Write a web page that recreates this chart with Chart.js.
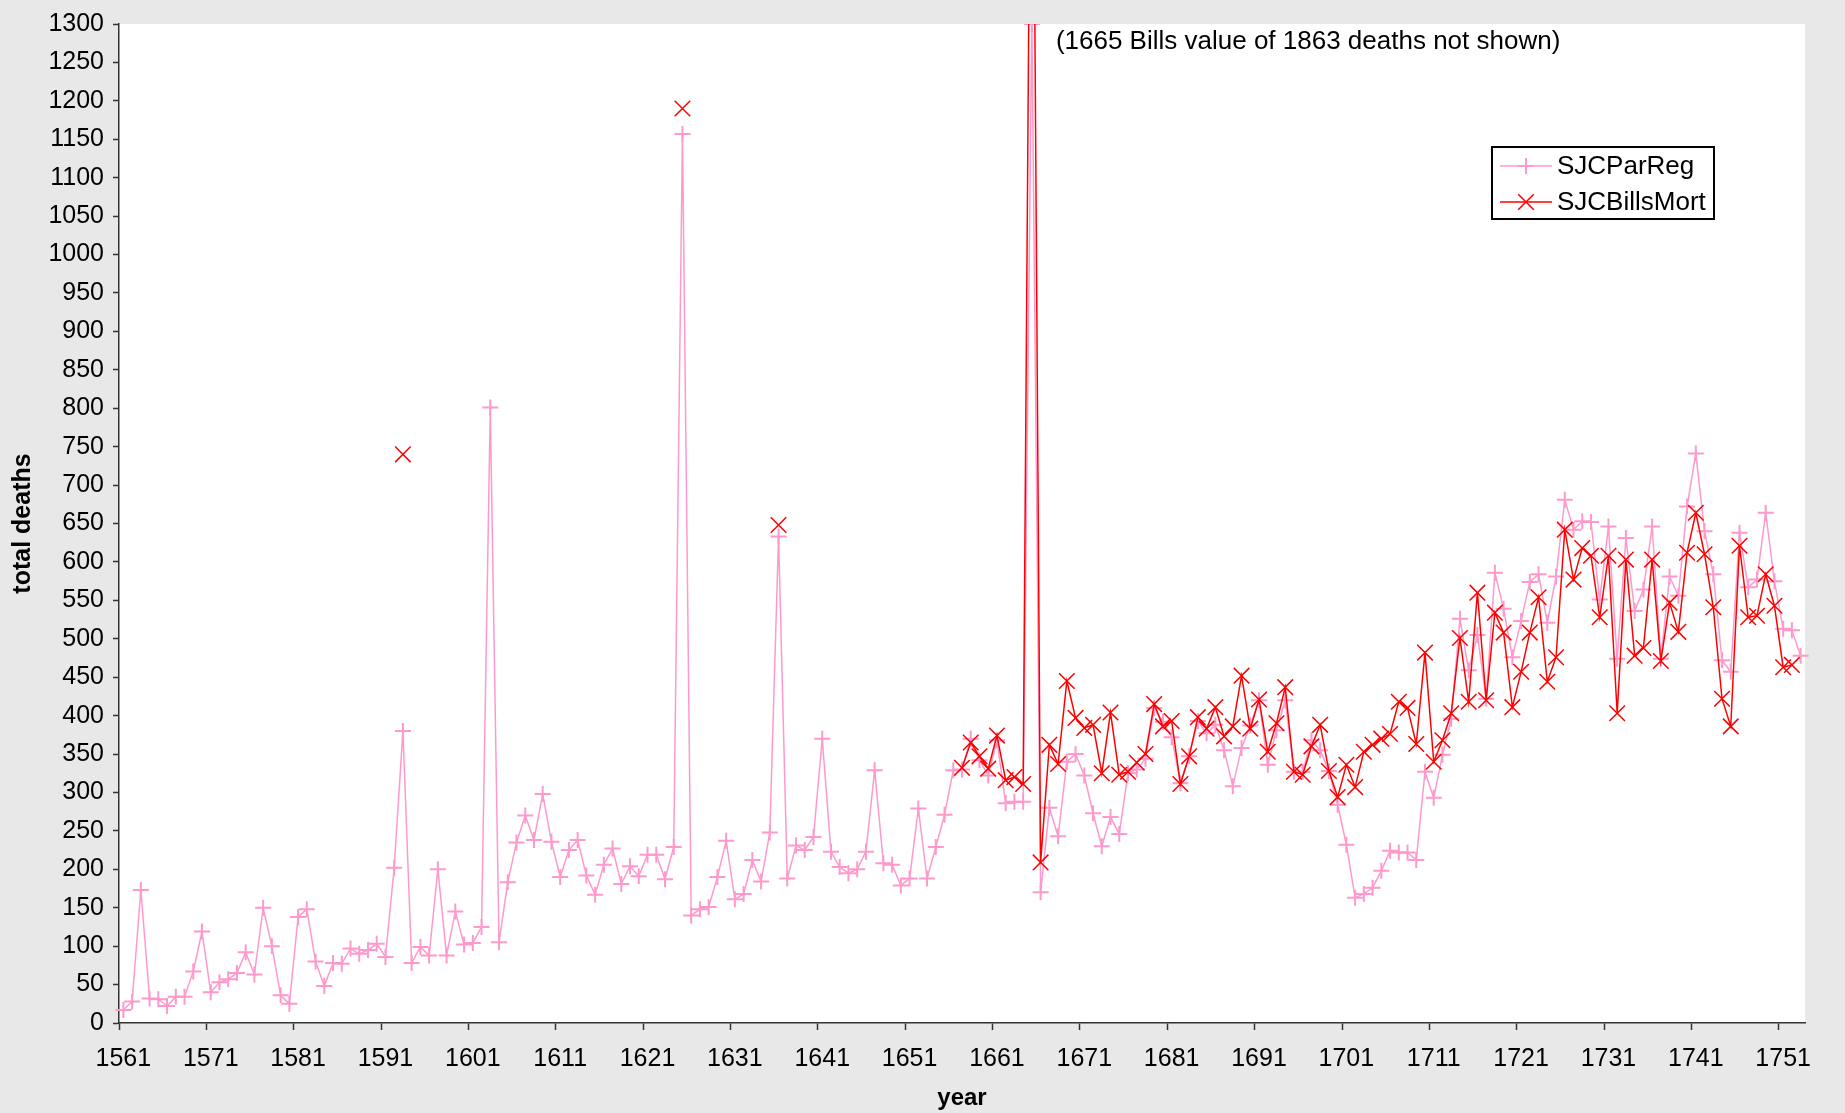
<!DOCTYPE html>
<html>
<head>
<meta charset="utf-8">
<script src="https://cdn.jsdelivr.net/npm/chart.js@4.4.1/dist/chart.umd.min.js"></script>
<style>
  html, body { margin: 0; padding: 0; background: #e8e8e8; }
  canvas { display: block; }
</style>
</head>
<body>
<canvas id="deathsChart" width="1845" height="1113"></canvas>
<script>
// St John's (SJC) burials: parish register vs Bills of Mortality
const firstYear = 1561;

// parish register totals, 1561 .. 1753
const parReg = [
  17, 28, 173, 32, 31, 22, 34, 34, 67, 119,
  40, 53, 57, 65, 92, 63, 150, 100, 36, 25,
  138, 148, 80, 48, 78, 77, 97, 90, 95, 103,
  86, 202, 380, 78, 99, 88, 200, 88, 145, 102,
  104, 125, 801, 105, 183, 235, 270, 238, 298, 236,
  190, 225, 238, 192, 167, 206, 227, 181, 204, 191,
  219, 219, 187, 229, 1157, 140, 148, 151, 190, 237,
  161, 168, 212, 184, 248, 633, 188, 231, 225, 242,
  370, 223, 203, 195, 200, 223, 329, 208, 206, 179,
  188, 279, 188, 229, 271, 329, 330, 370, 342, 322,
  368, 286, 288, 288, 1300, 170, 280, 243, 340, 350,
  322, 273, 230, 268, 246, 325, 330, 344, 410, 392,
  372, 312, 347, 393, 377, 388, 355, 308, 358, 387,
  420, 336, 381, 420, 327, 327, 368, 355, 328, 284,
  232, 163, 168, 176, 198, 224, 222, 222, 212, 327,
  293, 349, 396, 526, 459, 505, 422, 586, 539, 476,
  523, 574, 584, 521, 581, 681, 642, 653, 652, 551,
  646, 474, 631, 536, 564, 646, 474, 581, 556, 672,
  741, 640, 584, 472, 457, 638, 567, 577, 664, 575,
  513, 511, 478
];

// isolated early Bills values
const billsEarlyYears = [1593, 1625, 1636];
const billsEarlyValues = [740, 1190, 648];

// continuous Bills series, 1657 .. 1752 (1665 = 1863, off the scale)
const billsStartYear = 1657;
const billsValues = [
  332, 365, 347, 331, 374, 316, 320, 311, 1863, 209,
  362, 337, 445, 397, 384, 388, 325, 404, 323, 327,
  339, 350, 415, 386, 393, 311, 347, 398, 383, 411,
  373, 386, 452, 383, 421, 353, 390, 437, 327, 323,
  360, 388, 328, 294, 336, 307, 353, 362, 370, 376,
  418, 410, 363, 482, 340, 368, 403, 501, 418, 560,
  420, 534, 508, 411, 457, 508, 554, 444, 476, 642,
  577, 618, 608, 528, 608, 403, 603, 478, 488, 603,
  471, 547, 509, 612, 664, 610, 541, 422, 386, 621,
  528, 530, 584, 543, 463, 466
];

const yTicks = { min: 0, max: 1300, step: 50 };
const noteText = '(1665 Bills value of 1863 deaths not shown)';
const noteYear = 1665;

const years = parReg.map((_, i) => String(firstYear + i));
const billsMort = years.map(() => null);
billsEarlyYears.forEach((y, i) => { billsMort[y - firstYear] = billsEarlyValues[i]; });
billsValues.forEach((v, i) => { billsMort[billsStartYear - firstYear + i] = v; });

const FONT = '"Liberation Sans", Arial, sans-serif';
const PINK = '#ff99cc';
const RED = '#ff0000';
const AXIS = '#333333';

const backdrop = {
  id: 'backdrop',
  beforeDraw(chart) {
    const { ctx, chartArea: a } = chart;
    ctx.save();
    ctx.fillStyle = '#e8e8e8';
    ctx.fillRect(0, 0, chart.width, chart.height);
    ctx.fillStyle = '#ffffff';
    ctx.fillRect(a.left, a.top, a.right - a.left, a.bottom - a.top);
    ctx.restore();
  }
};

const extras = {
  id: 'extras',
  afterDraw(chart) {
    const { ctx, chartArea: a } = chart;
    const xs = chart.scales.x;
    ctx.save();

    // note next to the 1665 spike
    ctx.fillStyle = '#000';
    ctx.font = '26px ' + FONT;
    ctx.textBaseline = 'middle';
    ctx.textAlign = 'left';
    ctx.fillText(noteText, xs.getPixelForValue(noteYear - firstYear) + 24, a.top + 18);

    // legend box
    const bx = 1492, by = 147, bw = 222, bh = 72;
    ctx.fillStyle = '#fff';
    ctx.fillRect(bx, by, bw, bh);
    ctx.strokeStyle = '#000';
    ctx.lineWidth = 2;
    ctx.strokeRect(bx, by, bw, bh);

    chart.data.datasets.forEach((ds, i) => {
      const cy = by + 19 + i * 36;
      ctx.strokeStyle = ds.borderColor;
      ctx.lineWidth = 1.5;
      ctx.beginPath();
      ctx.moveTo(bx + 8, cy);
      ctx.lineTo(bx + 60, cy);
      ctx.stroke();
      ctx.lineWidth = ds.pointBorderWidth;
      Chart.helpers.drawPoint(ctx, {
        pointStyle: ds.pointStyle, radius: ds.pointRadius, rotation: 0,
        borderWidth: ds.pointBorderWidth
      }, bx + 34, cy);
      ctx.fillStyle = '#000';
      ctx.font = '26px ' + FONT;
      ctx.textBaseline = 'middle';
      ctx.fillText(ds.label, bx + 65, cy + 1);
    });
    ctx.restore();
  }
};

new Chart(document.getElementById('deathsChart'), {
  type: 'line',
  data: {
    labels: years,
    datasets: [
      {
        label: 'SJCParReg',
        data: parReg,
        borderColor: PINK,
        backgroundColor: PINK,
        borderWidth: 1.5,
        pointStyle: 'cross',
        pointRadius: 8,
        pointBorderWidth: 2,
        pointBorderColor: PINK,
        tension: 0,
        order: 2,
      },
      {
        label: 'SJCBillsMort',
        data: billsMort,
        borderColor: RED,
        backgroundColor: RED,
        borderWidth: 1.5,
        pointStyle: 'crossRot',
        pointRadius: 11,
        pointBorderWidth: 1.5,
        pointBorderColor: RED,
        tension: 0,
        spanGaps: false,
        order: 1,
      },
    ],
  },
  options: {
    responsive: false,
    animation: false,
    devicePixelRatio: 1,
    layout: { padding: { left: 0, top: 14, right: 40, bottom: 0 } },
    plugins: {
      legend: { display: false },
      tooltip: { enabled: false },
    },
    scales: {
      x: {
        type: 'category',
        offset: true,
        afterFit: (s) => { s.height = 90; },
        border: { display: true, color: AXIS, width: 1.5 },
        grid: {
          display: true,
          offset: true,
          drawOnChartArea: false,
          drawTicks: true,
          tickLength: 7,
          tickWidth: 1.5,
          tickColor: (c) => (c.index % 10 === 0 ? AXIS : 'rgba(0,0,0,0)'),
        },
        ticks: {
          autoSkip: false,
          maxRotation: 0,
          minRotation: 0,
          padding: 14,
          color: '#000',
          font: { family: FONT, size: 25 },
          callback: (v, i) => (i % 10 === 0 ? years[i] : ''),
        },
        title: {
          display: true,
          text: 'year',
          color: '#000',
          font: { family: FONT, size: 24, weight: 'bold' },
          padding: { top: 0, bottom: 0 },
        },
      },
      y: {
        min: yTicks.min,
        max: yTicks.max,
        afterFit: (s) => { s.width = 119; },
        border: { display: true, color: AXIS, width: 1.5 },
        grid: {
          display: true,
          drawOnChartArea: false,
          drawTicks: true,
          tickLength: 6,
          tickWidth: 1.5,
          tickColor: AXIS,
        },
        ticks: {
          stepSize: yTicks.step,
          padding: 9,
          color: '#000',
          font: { family: FONT, size: 25 },
          callback: (v) => String(v),
        },
        title: {
          display: true,
          text: 'total deaths',
          color: '#000',
          font: { family: FONT, size: 25, weight: 'bold' },
          padding: { top: 8, bottom: 0 },
        },
      },
    },
  },
  plugins: [backdrop, extras],
});
</script>
</body>
</html>
